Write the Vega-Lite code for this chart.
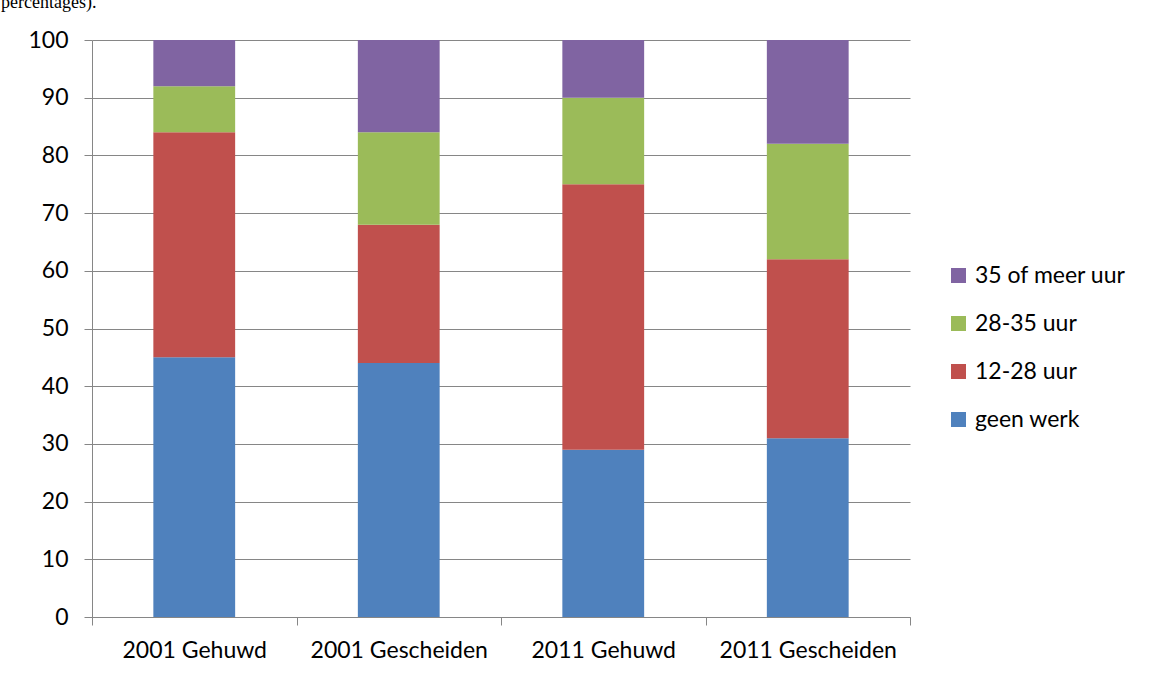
{
  "$schema": "https://vega.github.io/schema/vega-lite/v6.json",
  "width": 818,
  "height": 577,
  "autosize": {"type": "none"},
  "padding": {"left": 92, "top": 40, "right": 242, "bottom": 58},
  "background": "white",
  "title": {
    "text": "percentages).",
    "font": "Liberation Serif",
    "fontSize": 18,
    "fontWeight": "normal",
    "color": "black",
    "anchor": "start",
    "frame": "group",
    "baseline": "alphabetic",
    "offset": 3,
    "dx": -91
  },
  "data": {
    "values": [
      {"groep": "2001 Gehuwd", "uren": "geen werk", "stapel": 1, "pct": 45},
      {"groep": "2001 Gehuwd", "uren": "12-28 uur", "stapel": 2, "pct": 39},
      {"groep": "2001 Gehuwd", "uren": "28-35 uur", "stapel": 3, "pct": 8},
      {"groep": "2001 Gehuwd", "uren": "35 of meer uur", "stapel": 4, "pct": 8},
      {"groep": "2001 Gescheiden", "uren": "geen werk", "stapel": 1, "pct": 44},
      {"groep": "2001 Gescheiden", "uren": "12-28 uur", "stapel": 2, "pct": 24},
      {"groep": "2001 Gescheiden", "uren": "28-35 uur", "stapel": 3, "pct": 16},
      {"groep": "2001 Gescheiden", "uren": "35 of meer uur", "stapel": 4, "pct": 16},
      {"groep": "2011 Gehuwd", "uren": "geen werk", "stapel": 1, "pct": 29},
      {"groep": "2011 Gehuwd", "uren": "12-28 uur", "stapel": 2, "pct": 46},
      {"groep": "2011 Gehuwd", "uren": "28-35 uur", "stapel": 3, "pct": 15},
      {"groep": "2011 Gehuwd", "uren": "35 of meer uur", "stapel": 4, "pct": 10},
      {"groep": "2011 Gescheiden", "uren": "geen werk", "stapel": 1, "pct": 31},
      {"groep": "2011 Gescheiden", "uren": "12-28 uur", "stapel": 2, "pct": 31},
      {"groep": "2011 Gescheiden", "uren": "28-35 uur", "stapel": 3, "pct": 20},
      {"groep": "2011 Gescheiden", "uren": "35 of meer uur", "stapel": 4, "pct": 18}
    ]
  },
  "mark": {"type": "bar", "width": {"band": 0.4}},
  "encoding": {
    "x": {
      "field": "groep",
      "type": "nominal",
      "sort": null,
      "scale": {"paddingInner": 0, "paddingOuter": 0},
      "axis": {
        "title": null,
        "labelAngle": 0,
        "labelFont": "Lato",
        "labelFontSize": 23,
        "labelColor": "black",
        "labelPadding": 14,
        "tickBand": "extent",
        "tickSize": 8,
        "tickColor": "#868686",
        "domainColor": "#868686",
        "grid": false
      }
    },
    "y": {
      "field": "pct",
      "type": "quantitative",
      "stack": "zero",
      "scale": {"domain": [0, 100], "nice": false},
      "axis": {
        "title": null,
        "values": [0, 10, 20, 30, 40, 50, 60, 70, 80, 90, 100],
        "labelFont": "Lato",
        "labelFontSize": 23,
        "labelColor": "black",
        "labelPadding": 16,
        "tickSize": 8,
        "tickColor": "#868686",
        "domainColor": "#868686",
        "grid": true,
        "gridColor": "#868686"
      }
    },
    "order": {"field": "stapel", "type": "quantitative", "sort": "ascending"},
    "color": {
      "field": "uren",
      "type": "nominal",
      "sort": ["35 of meer uur", "28-35 uur", "12-28 uur", "geen werk"],
      "scale": {
        "domain": ["35 of meer uur", "28-35 uur", "12-28 uur", "geen werk"],
        "range": ["#8064A2", "#9BBB59", "#C0504D", "#4F81BD"]
      },
      "legend": {
        "title": null,
        "orient": "none",
        "legendX": 855,
        "legendY": 224,
        "symbolType": "square",
        "symbolSize": 225,
        "symbolStrokeWidth": 0,
        "labelFont": "Lato",
        "labelFontSize": 23,
        "labelColor": "black",
        "labelOffset": 5,
        "rowPadding": 24
      }
    }
  },
  "config": {"view": {"stroke": null}}
}
